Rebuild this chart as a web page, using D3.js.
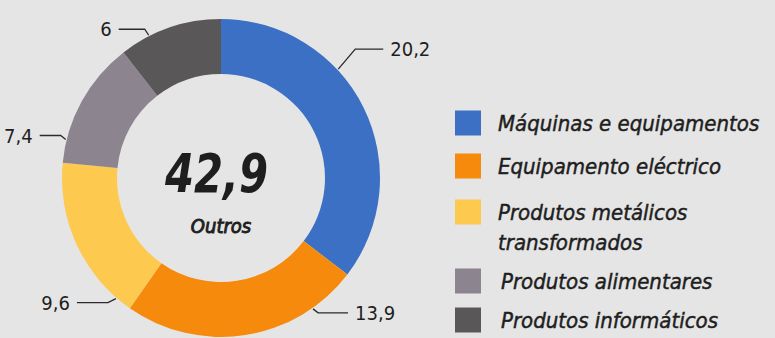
<!DOCTYPE html>
<html>
<head>
<meta charset="utf-8">
<script src="https://cdn.jsdelivr.net/npm/d3@7"></script>
<style>
  html, body { margin: 0; padding: 0; background: #e5e5e5; }
  svg { display: block; }
  text { font-family: "DejaVu Sans Condensed", "DejaVu Sans", sans-serif; font-stretch: condensed; fill: #1e1e1e; }
</style>
</head>
<body>
<svg id="chart" width="775" height="338"></svg>
<script>
// Sector shares (%), remainder shown in the middle as "Outros"
const categories = [
  "Máquinas e equipamentos",
  "Equipamento eléctrico",
  "Produtos metálicos transformados",
  "Produtos alimentares",
  "Produtos informáticos"
];
const values = [20.2, 13.9, 9.6, 7.4, 6];
const valueLabels = ["20,2", "13,9", "9,6", "7,4", "6"];
const othersValue = 42.9;
const othersLabel = "42,9";
const othersName = "Outros";
const legendLines = [
  ["Máquinas e equipamentos"],
  ["Equipamento eléctrico"],
  ["Produtos metálicos", "transformados"],
  ["Produtos alimentares"],
  ["Produtos informáticos"]
];
const colors = ["#3b70c4", "#f68a0d", "#fdc94f", "#8c848e", "#5a5759"];

// Where each leader line meets its slice (fraction along the slice),
// which side the label sits on, and the leader's rise / run / tail
const leaderAt = [0.37, 0.2, 0.1, 0.18, 0.29];
const leaderSide = [1, 1, -1, -1, -1];
const leaderRise = [20, 4, 4, 4, 6];
const leaderRun = [17, 5, 8, 5, 4];
const leaderTail = [28, 30, 31, 21, 26];

const svg = d3.select("#chart");
const cx = 221, cy = 178, rOuter = 159, rInner = 104;

const color = d3.scaleOrdinal().domain(categories).range(colors);

const pie = d3.pie().sort(null).value(d => d.value);
const data = categories.map((c, i) => ({ name: c, value: values[i], label: valueLabels[i] }));
const arcs = pie(data);
const arc = d3.arc().innerRadius(rInner).outerRadius(rOuter);

const g = svg.append("g").attr("transform", `translate(${cx},${cy})`);

g.selectAll("path.slice")
  .data(arcs)
  .join("path")
  .attr("class", "slice")
  .attr("d", arc)
  .attr("fill", d => color(d.data.name));

// Leader lines + value labels
arcs.forEach((d, i) => {
  const a = d.startAngle + (d.endAngle - d.startAngle) * leaderAt[i];
  const p0 = [Math.sin(a) * (rOuter + 1), -Math.cos(a) * (rOuter + 1)];
  const side = leaderSide[i];
  const bendY = p0[1] + (p0[1] < 0 ? -1 : 1) * leaderRise[i];
  const bendX = p0[0] + side * leaderRun[i];
  const endX = bendX + side * leaderTail[i];
  g.append("path")
    .attr("d", d3.line()([p0, [bendX, bendY], [endX, bendY]]))
    .attr("fill", "none")
    .attr("stroke", "#2a2a2a")
    .attr("stroke-width", 1.3);
  g.append("text")
    .attr("x", endX + side * 7)
    .attr("y", bendY)
    .attr("dy", "0.36em")
    .attr("text-anchor", side > 0 ? "start" : "end")
    .attr("font-size", 20)
    .text(d.data.label);
});

// Centre value
g.append("text")
  .attr("x", -56).attr("y", 14)
  .attr("font-size", 54)
  .attr("font-weight", "bold")
  .attr("font-style", "italic")
  .attr("textLength", 103)
  .attr("lengthAdjust", "spacingAndGlyphs")
  .text(othersLabel);
g.append("text")
  .attr("x", 0).attr("y", 55)
  .attr("text-anchor", "middle")
  .attr("font-size", 20)
  .attr("font-style", "italic")
  .attr("stroke", "#1e1e1e")
  .attr("stroke-width", 0.9)
  .text(othersName);

// Legend
const legendRows = [123, 166, 212, 281, 320];
const legend = svg.append("g");
categories.forEach((c, i) => {
  const y = legendRows[i];
  legend.append("rect")
    .attr("x", 455).attr("y", y - 12.5)
    .attr("width", 26).attr("height", 25)
    .attr("fill", color(c));
  legendLines[i].forEach((line, j) => {
    legend.append("text")
      .attr("x", 498 + (i >= 3 ? 3 : 0))
      .attr("y", y + j * 30)
      .attr("dy", "0.36em")
      .attr("font-size", 22)
      .attr("font-style", "italic")
      .attr("stroke", "#1e1e1e")
      .attr("stroke-width", 0.45)
      .text(line);
  });
});
</script>
</body>
</html>
